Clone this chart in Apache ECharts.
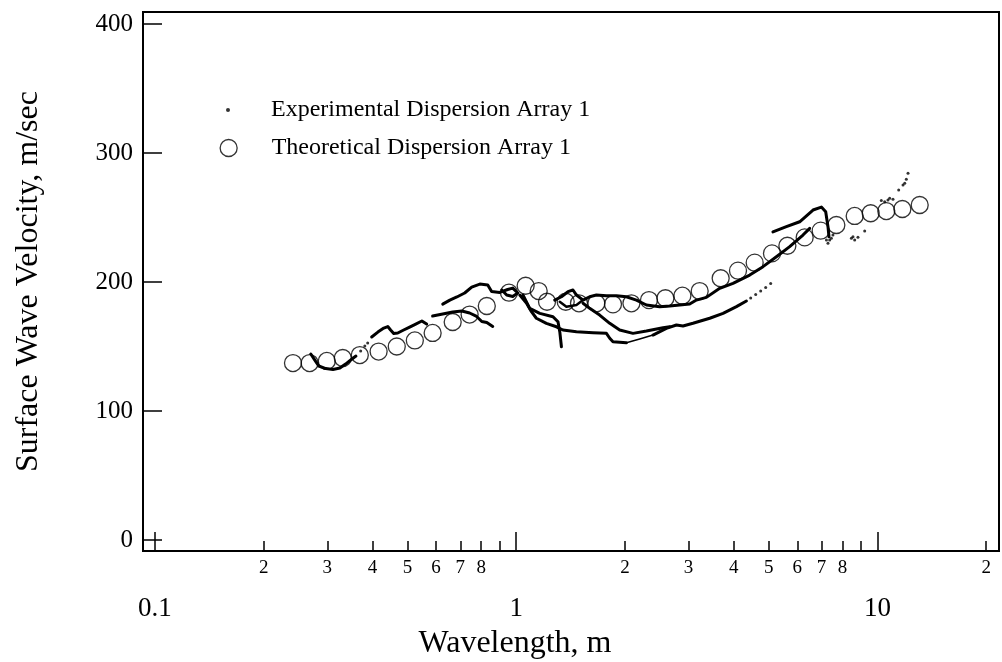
<!DOCTYPE html>
<html>
<head>
<meta charset="utf-8">
<script src="https://cdn.jsdelivr.net/npm/echarts@6/dist/echarts.min.js"></script>
<style>
  html, body { margin: 0; padding: 0; background: #fff; }
  #chart { width: 1002px; height: 662px; }
</style>
</head>
<body>
<div id="chart"></div>
<script>
// ---------- data ----------
const yTickValues = [0, 100, 200, 300, 400];
const majorXTicks = [0.1, 1, 10];
const minorXTicks = [0.2,0.3,0.4,0.5,0.6,0.7,0.8,0.9, 2,3,4,5,6,7,8,9, 20];
const minorXLabels = [0.2,0.3,0.4,0.5,0.6,0.7,0.8, 2,3,4,5,6,7,8, 20];

const theoWavelength = [0.241,0.268,0.299,0.331,0.369,0.416,0.467,0.524,0.587,0.667,0.743,0.829,
  0.955,1.062,1.154,1.217,1.371,1.492,1.667,1.853,2.084,2.331,2.588,2.884,3.220,3.681,4.111,4.572,
  5.105,5.632,6.288,6.963,7.695,8.648,9.577,10.58,11.72,13.09];
const theoVelocity = [137.2,137.2,138.8,141.1,143.4,146.1,150.0,154.7,160.5,169.0,174.8,181.4,
  191.7,197.1,193.0,184.7,184.7,183.5,183.5,182.7,183.5,186.0,187.4,189.4,193.0,202.9,208.8,215.0,
  222.2,228.1,234.6,239.8,244.2,251.2,253.3,255.0,256.6,259.7];

// experimental dispersion traces [wavelength m, velocity m/s]
const expA = [[0.270,144.2],[0.277,139.5],[0.284,134.9],[0.297,132.9],[0.311,132.2],[0.325,133.3],[0.337,136.4],[0.351,140.3],[0.360,142.6]];
const expB = [[0.398,157.4],[0.414,161.2],[0.430,164.3],[0.441,165.5],[0.449,162.8],[0.458,160.1],[0.470,160.5],[0.488,162.8],[0.507,165.1],[0.527,167.4],[0.548,169.8],[0.565,167.4]];
const expC = [[0.587,173.6],[0.626,175.2],[0.667,176.7],[0.707,177.5],[0.743,176.0],[0.777,173.3],[0.803,169.4],[0.829,168.6],[0.861,165.5]];
const expE = [[0.626,182.9],[0.655,186.0],[0.685,188.4],[0.720,191.5],[0.753,196.1],[0.793,198.4],[0.834,197.7],[0.855,192.6],[0.900,191.9],[0.947,194.2],[0.978,195.3],[1.010,191.5],[0.978,188.8],[0.941,189.9],[0.912,193.8]];
const exp1 = [[1.023,189.9],[1.067,183.7],[1.102,177.0],[1.137,171.9],[1.212,168.0],[1.292,165.3],[1.347,162.8],[1.468,161.5],[1.632,160.7],[1.777,160.2],[1.815,156.4],[1.853,153.7],[2.018,152.9]];
const exp1Thin = [[2.018,152.9],[2.197,155.8],[2.391,158.9]];
const exp1B = [[2.391,158.9],[2.604,164.1],[2.776,166.7],[2.895,165.9],[3.085,168.0],[3.433,171.9],[3.737,175.7],[4.070,180.9],[4.337,185.3]];
const expD = [[1.044,189.9],[1.090,179.6],[1.162,175.7],[1.264,173.1],[1.305,169.2],[1.320,161.5],[1.334,149.8]];
const exp3 = [[1.531,183.5],[1.597,179.6],[1.702,174.4],[1.815,168.0],[1.934,162.8],[2.105,160.2],[2.293,162.0],[2.549,164.6],[2.660,165.3]];
const expU = [[1.278,186.0],[1.334,188.6],[1.391,192.5],[1.436,193.8],[1.468,189.9],[1.531,186.0],[1.597,188.6],[1.667,189.9],[1.777,189.4],[1.894,189.4],[2.018,188.6],[2.151,186.0],[2.293,182.2],[2.496,180.9],[2.660,181.4],[3.021,182.9],[3.154,186.0],[3.361,188.1],[3.659,195.1],[3.982,199.0],[4.430,205.4],[4.822,211.9],[5.251,219.6],[5.715,227.4],[6.220,236.4],[6.493,241.6]];
const expLoop = [[1.320,184.7],[1.377,180.9],[1.468,182.2],[1.531,186.0]];
const expT = [[5.137,238.8],[5.596,242.9],[6.091,246.7],[6.631,255.8],[6.995,258.1],[7.190,254.5],[7.295,242.9],[7.342,235.1]];
const expDots = [[0.371,146.5],[0.381,150.4],[0.388,152.7],
  [4.458,187.6],[4.602,190.3],[4.751,193.0],[4.904,195.7],[5.063,198.8],
  [7.295,230.0],[7.374,232.6],[7.454,233.9],[7.530,236.4],[7.223,232.6],
  [8.470,233.9],[8.648,232.6],[8.831,234.7],[8.556,235.1],[9.218,239.5],
  [10.25,263.2],[10.47,262.2],[10.69,263.6],[10.81,264.9],[11.04,264.1],
  [11.45,271.3],[11.77,275.2],[11.90,276.5],[12.02,279.6],[12.15,284.3]];

const EXP_NAME = 'Experimental Dispersion Array 1';
const THEO_NAME = 'Theoretical Dispersion Array 1';

// ---------- chart ----------
const FONT = 'Liberation Serif';
const X_MIN = 0.09265, X_MAX = 21.7;
const chart = echarts.init(document.getElementById('chart'));

function lineSeries(data, width) {
  return {
    type: 'line', name: 'exp-trace', data: data, xAxisIndex: 0, yAxisIndex: 0,
    symbol: 'none', silent: true, animation: false,
    lineStyle: { color: '#000', width: width, join: 'round', cap: 'round' }
  };
}

const series = [
  {
    type: 'scatter', name: EXP_NAME, data: expDots, xAxisIndex: 0, yAxisIndex: 0,
    symbol: 'circle', symbolSize: 3, itemStyle: { color: '#000' }, animation: false
  },
  lineSeries(expA, 3), lineSeries(expB, 3), lineSeries(expC, 3), lineSeries(expE, 3),
  lineSeries(exp1, 3), lineSeries(exp1Thin, 1.5), lineSeries(exp1B, 3), lineSeries(expD, 3),
  lineSeries(exp3, 3), lineSeries(expU, 3), lineSeries(expLoop, 2.5), lineSeries(expT, 3),
  {
    type: 'scatter', name: THEO_NAME, xAxisIndex: 0, yAxisIndex: 0,
    data: theoWavelength.map((w, i) => [w, theoVelocity[i]]),
    symbol: 'circle', symbolSize: 17, animation: false, z: 3,
    itemStyle: { color: 'rgba(0,0,0,0)', borderColor: '#000', borderWidth: 1.3 }
  }
];

function isPow10(v) {
  const l = Math.log10(v);
  return Math.abs(l - Math.round(l)) < 1e-6;
}

const option = {
  animation: false,
  backgroundColor: '#fff',
  textStyle: { fontFamily: FONT, color: '#000' },
  grid: {
    left: 143, top: 12, right: 3, bottom: 111, containLabel: false, outerBoundsMode: 'none',
    show: true, borderColor: '#000', borderWidth: 2, backgroundColor: 'transparent'
  },
  legend: [
    {
      data: [EXP_NAME], left: 226, top: 96, padding: 0, orient: 'vertical',
      icon: 'circle', itemWidth: 76, itemHeight: 4, selectedMode: false,
      itemStyle: { color: '#000' },
      textStyle: { fontFamily: FONT, fontSize: 24, color: '#000', lineHeight: 28 }
    },
    {
      data: [THEO_NAME], left: 219.5, top: 134, padding: 0, orient: 'vertical',
      icon: 'circle', itemWidth: 76, itemHeight: 17, selectedMode: false,
      itemStyle: { color: 'rgba(0,0,0,0)', borderColor: '#000', borderWidth: 1.3 },
      textStyle: { fontFamily: FONT, fontSize: 24, color: '#000', lineHeight: 28 }
    }
  ],
  xAxis: [
    {
      type: 'log', logBase: 10, min: X_MIN, max: X_MAX, position: 'bottom',
      axisLine: { show: true, onZero: false, lineStyle: { color: '#000', width: 2 } },
      axisTick: { show: true, inside: true, length: 19, lineStyle: { color: '#000', width: 1.5 } },
      axisLabel: {
        show: true, margin: 44, fontSize: 27, fontFamily: FONT, color: '#000',
        showMinLabel: false, showMaxLabel: false,
        formatter: v => isPow10(v) ? String(+v.toPrecision(3)) : ''
      },
      splitLine: { show: false }, minorTick: { show: false },
      name: 'Wavelength, m', nameLocation: 'middle', nameGap: 77,
      nameTextStyle: { fontFamily: FONT, fontSize: 32, color: '#000', padding: [0, 112, 0, 0] }
    },
    {
      type: 'value', min: Math.log10(X_MIN), max: Math.log10(X_MAX), position: 'bottom',
      axisLine: { show: false, onZero: false },
      axisTick: { show: true, inside: true, length: 10, customValues: minorXTicks.map(Math.log10),
        lineStyle: { color: '#000', width: 1.5 } },
      axisLabel: {
        show: true, margin: 8, fontSize: 19, fontFamily: FONT, color: '#000',
        customValues: minorXLabels.map(Math.log10),
        formatter: v => String(Math.round(Math.pow(10, v - Math.floor(v + 1e-9))))
      },
      splitLine: { show: false }
    }
  ],
  yAxis: {
    type: 'value', min: -8.5, max: 409.3,
    axisLine: { show: true, onZero: false, lineStyle: { color: '#000', width: 2 } },
    axisTick: { show: true, inside: true, length: 19, customValues: yTickValues,
      lineStyle: { color: '#000', width: 1.5 } },
    axisLabel: { show: true, margin: 10, fontSize: 25, fontFamily: FONT, color: '#000',
      customValues: yTickValues },
    splitLine: { show: false },
    name: 'Surface Wave Velocity, m/sec', nameLocation: 'middle', nameGap: 98,
    nameTextStyle: { fontFamily: FONT, fontSize: 32, color: '#000' }
  },
  series: series
};
chart.setOption(option);
</script>
</body>
</html>
